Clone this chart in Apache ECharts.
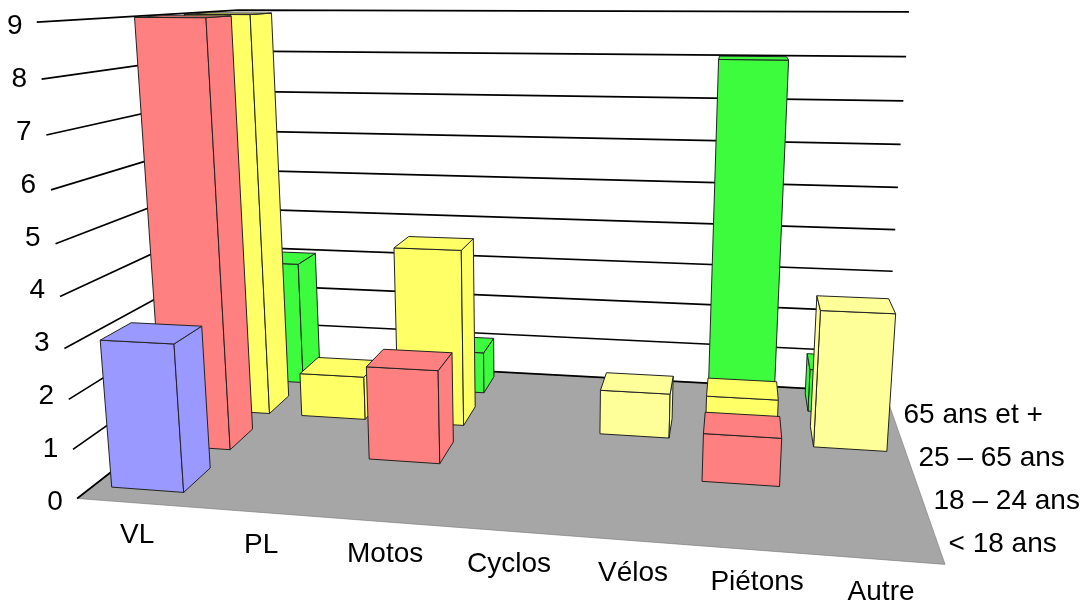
<!DOCTYPE html>
<html><head><meta charset="utf-8">
<style>html,body{margin:0;padding:0;background:#fff}#c{width:1089px;height:604px}</style>
<script src="https://cdn.jsdelivr.net/npm/echarts@6/dist/echarts.min.js"></script>
</head><body><div id="c"></div>
<script>
// ---- data ----
const categories = ['VL','PL','Motos','Cyclos','Vélos','Piétons','Autre'];
const ageGroups = ['< 18 ans','18 – 24 ans','25 – 65 ans','65 ans et +'];
const under18 = [3,0,0,0,0,0,0];
const age18to24 = [9,0,2,0,0,1,0];
const age25to65 = [9,1,4,0,1,1,3];
const age65plus = [3,0,1,0,0,8,1];
const valueTicks = [0,1,2,3,4,5,6,7,8,9];
const rowColors = ['#9999ff','#ff8080','#ffff66','#3dfb3d'];
const paleCategories = ['Vélos','Autre'];
const paleColor = '#ffff99';
const rows = [under18, age18to24, age25to65, age65plus];

// ---- view: anchors of the picture's 3D box (u along categories, v height 0-1, w depth) ----
const anchors = [
 [0,0,0,77,498],[0,1,0,37,22],[1,0,0,945,565],[0,0,1,256,359.5],
 [0,1,1,238,10],[1,0,1,885,392],[1,1,1,909,12]
];
function solve(A,b){const n=b.length;const M=A.map((r,i)=>r.concat(b[i]));
 for(let c=0;c<n;c++){let p=c;for(let r=c+1;r<n;r++)if(Math.abs(M[r][c])>Math.abs(M[p][c]))p=r;
  [M[c],M[p]]=[M[p],M[c]];
  for(let r=0;r<n;r++){if(r===c)continue;const f=M[r][c]/M[c][c];for(let k=c;k<=n;k++)M[r][k]-=f*M[c][k];}}
 return M.map((r,i)=>r[n]/r[i]);}
const eq=[],rhs=[];
anchors.forEach(([X,Y,Z,x,y])=>{
 eq.push([X,Y,Z,1,0,0,0,0,-x*X,-x*Y,-x*Z]);rhs.push(x);
 eq.push([0,0,0,0,X,Y,Z,1,-y*X,-y*Y,-y*Z]);rhs.push(y);});
const AtA=Array.from({length:11},(_,i)=>Array.from({length:11},(_,j)=>eq.reduce((s,r)=>s+r[i]*r[j],0)));
const Atb=Array.from({length:11},(_,i)=>eq.reduce((s,r,k)=>s+r[i]*rhs[k],0));
const m=solve(AtA,Atb);
function proj(u,v,w){const d=m[8]*u+m[9]*v+m[10]*w+1;
 return [(m[0]*u+m[1]*v+m[2]*w+m[3])/d,(m[4]*u+m[5]*v+m[6]*w+m[7])/d];}
function lerp(a,b,t){return [a[0]+(b[0]-a[0])*t,a[1]+(b[1]-a[1])*t];}

const FONT='28px "Liberation Sans", Arial, sans-serif';
const BAR_W=0.66, BAR_D=0.55, ROW_SHIFT=0.012;
const vanishU=0.68;
const nR=ageGroups.length;

// axis helpers: flat hidden grid gives scale positions
function norm(api,params,cat,val){
 const cs=params.coordSys;const p=api.coord([cat,val]);
 return [(p[0]-cs.x)/cs.width,(cs.y+cs.height-p[1])/cs.height];}

function boxFaces(u0,u1,w0,w1,v){
 const c=(a,b,d)=>proj(a,b,d);
 return [
  [c(u0,0,w0),c(u1,0,w0),c(u1,v,w0),c(u0,v,w0)],
  [c(u1,0,w0),c(u1,0,w1),c(u1,v,w1),c(u1,v,w0)],
  [c(u1,0,w1),c(u0,0,w1),c(u0,v,w1),c(u1,v,w1)],
  [c(u0,0,w1),c(u0,0,w0),c(u0,v,w0),c(u0,v,w1)],
  [c(u0,v,w0),c(u1,v,w0),c(u1,v,w1),c(u0,v,w1)]
 ];
}
function area(p){let s=0;for(let i=0;i<p.length;i++){const a=p[i],b=p[(i+1)%p.length];s+=a[0]*b[1]-b[0]*a[1];}return s;}

const barData=[];
rows.forEach((vals,r)=>vals.forEach((v,c)=>{if(v>0)barData.push([c,v,r]);}));
barData.sort((a,b)=>(b[2]-a[2])||(Math.abs((b[0]+.5)/7-vanishU)-Math.abs((a[0]+.5)/7-vanishU)));

function renderBar(params,api){
 const c=api.value(0),val=api.value(1),r=api.value(2);
 const [uc,v]=norm(api,params,c,val);
 const hw=BAR_W/categories.length/2, cw=(r+.5)/nR+ROW_SHIFT, hd=BAR_D/nR/2;
 let col=rowColors[r];
 if(paleCategories.includes(categories[c])&&r===2)col=paleColor;
 const faces=boxFaces(uc-hw,uc+hw,cw-hd,cw+hd,v);
 const front=area(faces[0]);
 const kids=faces.filter(f=>area(f)*front>0).map(f=>({type:'polygon',shape:{points:f},
   style:{fill:col,stroke:'#222',lineWidth:1,lineJoin:'round'}}));
 return {type:'group',children:kids};
}
function renderFloor(params,api){
 return {type:'polygon',shape:{points:[proj(0,0,0),proj(1,0,0),proj(1,0,1),proj(0,0,1)]},
   style:{fill:'#a6a6a6',stroke:'#777',lineWidth:.6}};
}
function renderTick(params,api){
 const [,v]=norm(api,params,0,api.value(0));
 const a=proj(0,v,0),b=proj(0,v,1),d=proj(1,v,1);
 const lab=lerp(proj(0,0,0),proj(0,1,0),v);
 return {type:'group',children:[
  {type:'polyline',shape:{points:[a,b,d]},style:{fill:null,stroke:'#000',lineWidth:1.7}},
  {type:'text',style:{text:String(api.value(0)),x:lab[0]-22,y:lab[1]+4,font:FONT,fill:'#000',align:'center',verticalAlign:'middle'}}
 ]};
}
function renderCat(params,api){
 const [u]=norm(api,params,api.value(0),0);
 const p=lerp(proj(0,0,0),proj(1,0,0),u);
 return {type:'text',style:{text:categories[api.value(0)],x:p[0]-2,y:p[1]+32.5,font:FONT,fill:'#000',align:'center',verticalAlign:'middle'}};
}
function renderAge(params,api){
 const r=api.value(0);
 const p=lerp(proj(1,0,0),proj(1,0,1),(r+.5)/nR);
 return {type:'text',style:{text:ageGroups[r],x:p[0]+11,y:p[1]+1,font:FONT,fill:'#000',align:'left',verticalAlign:'middle'}};
}
const chart=echarts.init(document.getElementById('c'),null,{renderer:'canvas',width:1089,height:604});
chart.setOption({
 animation:false,backgroundColor:'#fff',
 grid:{left:100,right:100,top:20,bottom:20},
 xAxis:{type:'category',data:categories,show:false},
 yAxis:{type:'value',min:0,max:9,interval:1,show:false},
 series:[
  {type:'custom',coordinateSystem:'cartesian2d',silent:true,z:1,data:[[0,0]],renderItem:renderFloor,clip:false},
  {type:'custom',coordinateSystem:'cartesian2d',silent:true,z:2,data:valueTicks.map(t=>[t]),encode:{x:[],y:0},renderItem:renderTick,clip:false},
  {type:'custom',coordinateSystem:'cartesian2d',silent:true,z:3,data:barData,encode:{x:0,y:1},renderItem:renderBar,clip:false},
  {type:'custom',coordinateSystem:'cartesian2d',silent:true,z:4,data:categories.map((_,i)=>[i]),encode:{x:0,y:[]},renderItem:renderCat,clip:false},
  {type:'custom',coordinateSystem:'cartesian2d',silent:true,z:4,data:ageGroups.map((_,i)=>[i]),encode:{x:[],y:[]},renderItem:renderAge,clip:false}
 ]
});
</script></body></html>
